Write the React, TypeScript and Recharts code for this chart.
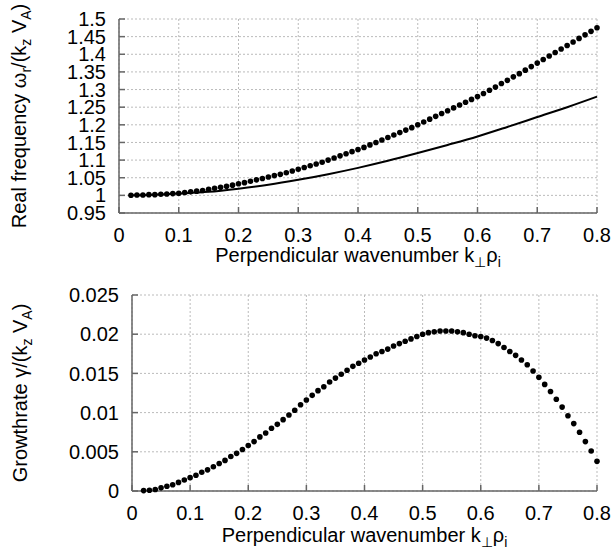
import React from 'react'
import { LineChart, Line, XAxis, YAxis, CartesianGrid } from 'recharts'

// k_perp * rho_i sample points
const kGrid = [
  0.02, 0.03, 0.04, 0.05, 0.06, 0.07, 0.08, 0.09, 0.1,
  0.11, 0.12, 0.13, 0.14, 0.15, 0.16, 0.17, 0.18, 0.19, 0.2,
  0.21, 0.22, 0.23, 0.24, 0.25, 0.26, 0.27, 0.28, 0.29, 0.3,
  0.31, 0.32, 0.33, 0.34, 0.35, 0.36, 0.37, 0.38, 0.39, 0.4,
  0.41, 0.42, 0.43, 0.44, 0.45, 0.46, 0.47, 0.48, 0.49, 0.5,
  0.51, 0.52, 0.53, 0.54, 0.55, 0.56, 0.57, 0.58, 0.59, 0.6,
  0.61, 0.62, 0.63, 0.64, 0.65, 0.66, 0.67, 0.68, 0.69, 0.7,
  0.71, 0.72, 0.73, 0.74, 0.75, 0.76, 0.77, 0.78, 0.79, 0.8,
]

// real frequency, points
const omegaDots = [
  1.0005, 1.001, 1.001, 1.002, 1.002, 1.003, 1.004, 1.005, 1.006,
  1.008, 1.01, 1.012, 1.014, 1.017, 1.02, 1.023, 1.026, 1.029, 1.033,
  1.036, 1.04, 1.044, 1.048, 1.052, 1.056, 1.06, 1.064, 1.069, 1.074,
  1.079, 1.084, 1.089, 1.094, 1.1, 1.106, 1.112, 1.118, 1.124, 1.13,
  1.136, 1.143, 1.15, 1.157, 1.164, 1.171, 1.178, 1.185, 1.192, 1.2,
  1.208, 1.216, 1.224, 1.232, 1.24, 1.248, 1.256, 1.264, 1.272, 1.28,
  1.289, 1.298, 1.307, 1.317, 1.326, 1.336, 1.345, 1.355, 1.365, 1.375,
  1.385, 1.395, 1.405, 1.415, 1.425, 1.435, 1.445, 1.455, 1.465, 1.475,
]

// real frequency, solid curve
const kLine = [0.02, 0.05, 0.1, 0.15, 0.2, 0.25, 0.3, 0.35, 0.4, 0.45, 0.5, 0.55, 0.6, 0.65, 0.7, 0.75, 0.8]
const omegaLine = [1.0, 1.001, 1.005, 1.01, 1.019, 1.03, 1.044, 1.06, 1.078, 1.098, 1.12, 1.143, 1.167, 1.194, 1.222, 1.25, 1.28]

// growth rate, points
const gammaDots = [
  0.00005, 0.0001, 0.0002, 0.0004, 0.0006, 0.0008, 0.0011, 0.0014, 0.0017,
  0.002, 0.0024, 0.0027, 0.0031, 0.0035, 0.0039, 0.0044, 0.0048, 0.0053, 0.0058,
  0.0063, 0.0069, 0.0074, 0.008, 0.0085, 0.0091, 0.0097, 0.0103, 0.011, 0.0116,
  0.0122, 0.0128, 0.0133, 0.0139, 0.0144, 0.0149, 0.0154, 0.0159, 0.0163, 0.0167,
  0.0171, 0.0175, 0.0178, 0.0181, 0.0185, 0.0188, 0.0191, 0.0194, 0.0197, 0.02,
  0.0202, 0.0203, 0.0204, 0.0204, 0.0204, 0.0203, 0.0202, 0.02, 0.0198, 0.0197,
  0.0195, 0.0192, 0.0188, 0.0183, 0.0178, 0.0173, 0.0167, 0.0161, 0.0153, 0.0145,
  0.0136, 0.0127, 0.0117, 0.0107, 0.0096, 0.0086, 0.0075, 0.0063, 0.0051, 0.0038,
]

const xTicks = [0, 0.1, 0.2, 0.3, 0.4, 0.5, 0.6, 0.7, 0.8]
const omegaTicks = [0.95, 1, 1.05, 1.1, 1.15, 1.2, 1.25, 1.3, 1.35, 1.4, 1.45, 1.5]
const gammaTicks = [0, 0.005, 0.01, 0.015, 0.02, 0.025]

const omegaDotData = kGrid.map((x, i) => ({ x, y: omegaDots[i] }))
const omegaLineData = kLine.map((x, i) => ({ x, y: omegaLine[i] }))
const gammaDotData = kGrid.map((x, i) => ({ x, y: gammaDots[i] }))

const FONT = '"Liberation Sans", Arial, Helvetica, sans-serif'
const FS = 20
const SUB = 14
const BORDER = '#666'
const fmt = (v: number) => String(parseFloat(v.toFixed(3)))
const tickStyle = { fill: '#000', fontSize: FS, fontFamily: FONT }

const XTitle = (props: any) => {
  const vb = props.viewBox
  const cx = vb.x + vb.width / 2
  const y = vb.y + props.offsetY
  return (
    <text x={cx} y={y} textAnchor="middle" fontSize={FS} fontFamily={FONT} fill="#000">
      Perpendicular wavenumber k
      <tspan dy={5} fontSize={SUB}>⊥</tspan>
      <tspan dy={-5}>ρ</tspan>
      <tspan dy={5} fontSize={SUB}>i</tspan>
    </text>
  )
}

const YTitle = (props: any) => {
  const vb = props.viewBox
  const cy = vb.y + vb.height / 2
  const x = props.kind === 'omega' ? 26 : 27
  return (
    <text x={x} y={cy} transform={`rotate(-90, ${x}, ${cy})`} textAnchor="middle" fontSize={FS} fontFamily={FONT} fill="#000">
      {props.kind === 'omega' ? (
        <>
          Real frequency ω<tspan dy={5} fontSize={SUB}>r</tspan>
          <tspan dy={-5}>/(k</tspan>
          <tspan dy={5} fontSize={SUB}>z</tspan>
          <tspan dy={-5}> V</tspan>
          <tspan dy={5} fontSize={SUB}>A</tspan>
          <tspan dy={-5}>)</tspan>
        </>
      ) : (
        <>
          Growthrate γ/(k<tspan dy={5} fontSize={SUB}>z</tspan>
          <tspan dy={-5}> V</tspan>
          <tspan dy={5} fontSize={SUB}>A</tspan>
          <tspan dy={-5}>)</tspan>
        </>
      )}
    </text>
  )
}

function Panel(props: {
  top: number
  margin: { top: number; right: number; left: number; bottom: number }
  yWidth: number
  xHeight: number
  yDomain: [number, number]
  yTicks: number[]
  kind: 'omega' | 'gamma'
  titleOffset: number
  children: React.ReactNode
}) {
  const border = { stroke: BORDER, strokeWidth: 1.5 }
  return (
    <div style={{ position: 'absolute', left: 0, top: props.top }}>
      <LineChart width={616} height={280} margin={props.margin}>
        <CartesianGrid stroke="#bbb" strokeDasharray="2 2" />
        <XAxis
          type="number"
          dataKey="x"
          domain={[0, 0.8]}
          ticks={xTicks}
          interval={0}
          tickFormatter={fmt}
          tick={tickStyle}
          tickSize={-6}
          tickMargin={21}
          tickLine={border}
          axisLine={border}
          height={props.xHeight}
          label={{ content: (p: any) => <XTitle {...p} offsetY={props.titleOffset} /> }}
        />
        <XAxis
          xAxisId="top"
          orientation="top"
          type="number"
          domain={[0, 0.8]}
          ticks={xTicks}
          interval={0}
          tick={false}
          tickSize={-6}
          tickLine={border}
          axisLine={border}
          height={0}
        />
        <YAxis
          type="number"
          domain={props.yDomain}
          ticks={props.yTicks}
          interval={0}
          tickFormatter={fmt}
          tick={tickStyle}
          tickSize={-6}
          tickMargin={19}
          tickLine={border}
          axisLine={border}
          width={props.yWidth}
          label={{ content: (p: any) => <YTitle {...p} kind={props.kind} /> }}
        />
        <YAxis
          yAxisId="right"
          orientation="right"
          type="number"
          domain={props.yDomain}
          ticks={props.yTicks}
          interval={0}
          tick={false}
          tickSize={-6}
          tickLine={border}
          axisLine={border}
          width={0}
        />
        {props.children}
      </LineChart>
    </div>
  )
}

export default function App() {
  return (
    <div style={{ position: 'absolute', left: 0, top: 0, width: 616, height: 560, background: '#fff' }}>
      <Panel
        top={0}
        margin={{ top: 19, right: 19, left: 0, bottom: 0 }}
        yWidth={119}
        xHeight={67}
        yDomain={[0.95, 1.5]}
        yTicks={omegaTicks}
        kind="omega"
        titleOffset={49}
      >
        <Line
          data={omegaLineData}
          dataKey="y"
          type="monotone"
          stroke="#000"
          strokeWidth={2}
          dot={false}
          activeDot={false}
          isAnimationActive={false}
        />
        <Line
          data={omegaDotData}
          dataKey="y"
          stroke="none"
          dot={{ r: 2.8, fill: '#000', stroke: 'none' }}
          activeDot={false}
          isAnimationActive={false}
        />
      </Panel>
      <Panel
        top={280}
        margin={{ top: 15, right: 19, left: 0, bottom: 0 }}
        yWidth={132}
        xHeight={69}
        yDomain={[0, 0.025]}
        yTicks={gammaTicks}
        kind="gamma"
        titleOffset={51}
      >
        <Line
          data={gammaDotData}
          dataKey="y"
          stroke="none"
          dot={{ r: 2.8, fill: '#000', stroke: 'none' }}
          activeDot={false}
          isAnimationActive={false}
        />
      </Panel>
    </div>
  )
}
